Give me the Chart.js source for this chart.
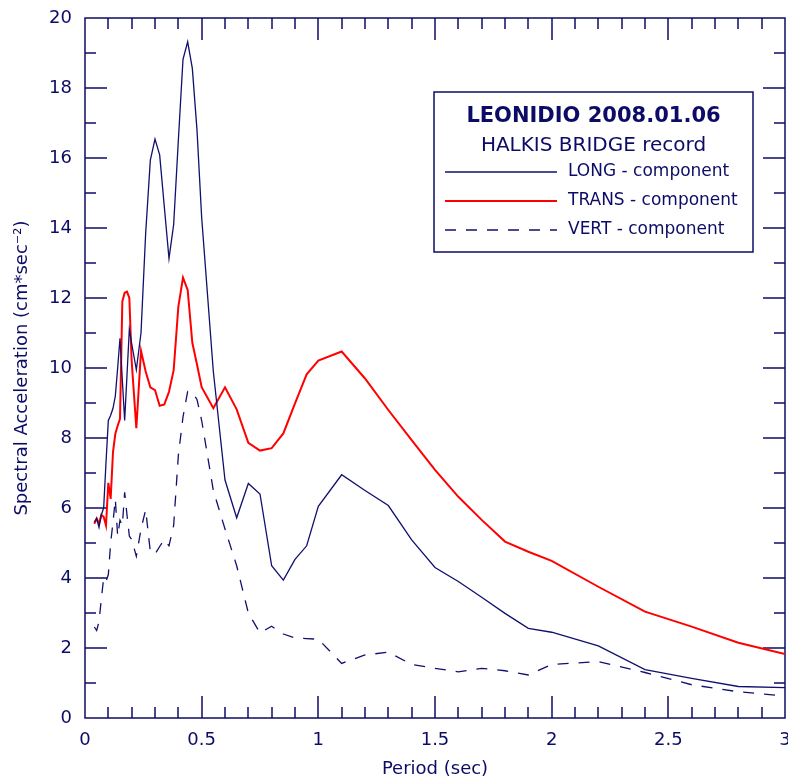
<!DOCTYPE html>
<html>
<head>
<meta charset="utf-8">
<title>Spectral Acceleration - LEONIDIO 2008.01.06</title>
<script src="https://cdn.jsdelivr.net/npm/chart.js"></script>
<style>
  html, body { margin: 0; padding: 0; background: #fff; overflow: hidden; }
  #container { width: 788px; height: 778px; }
</style>
</head>
<body>
<div id="container"><canvas id="saChart" width="788" height="778"></canvas></div>
<script>
// periods (sec) and spectral acceleration (cm*sec^-2)
const periods = [0.04, 0.05, 0.06, 0.07, 0.08, 0.09, 0.10, 0.11, 0.12, 0.13, 0.14, 0.15, 0.16, 0.17, 0.18, 0.19, 0.20,
  0.22, 0.24, 0.26, 0.28, 0.30, 0.32, 0.34, 0.36, 0.38, 0.40, 0.42, 0.44, 0.46, 0.48, 0.50,
  0.55, 0.60, 0.65, 0.70, 0.75, 0.80, 0.85, 0.90, 0.95, 1.0,
  1.1, 1.2, 1.3, 1.4, 1.5, 1.6, 1.7, 1.8, 1.9, 2.0, 2.2, 2.4, 2.6, 2.8, 3.0];

const longComp = [5.6, 5.7, 5.45, 5.8, 6.0, 7.3, 8.5, 8.65, 8.85, 9.2, 10.0, 10.85, 9.65, 8.5, 9.8, 11.1, 10.7,
  9.95, 11.0, 13.85, 15.94, 16.54, 16.09, 14.6, 13.13, 14.1, 16.5, 18.82, 19.32, 18.56, 16.8, 14.3,
  9.9, 6.8, 5.72, 6.7, 6.4, 4.35, 3.94, 4.53, 4.92, 6.05,
  6.95, 6.5, 6.07, 5.09, 4.3, 3.9, 3.45, 2.99, 2.56, 2.45, 2.06, 1.38, 1.13, 0.9, 0.87];

const transComp = [5.55, 5.7, 5.55, 5.8, 5.75, 5.5, 6.72, 6.26, 7.6, 8.12, 8.35, 8.55, 11.9, 12.15, 12.18, 12.0, 10.2,
  8.28, 10.49, 9.9, 9.45, 9.37, 8.92, 8.96, 9.32, 9.94, 11.75, 12.58, 12.23, 10.72, 10.1, 9.45,
  8.85, 9.45, 8.82, 7.86, 7.64, 7.71, 8.13, 8.99, 9.82, 10.21,
  10.47, 9.7, 8.8, 7.94, 7.09, 6.32, 5.66, 5.04, 4.75, 4.49, 3.75, 3.04, 2.61, 2.15, 1.83];

const vertComp = [2.6, 2.5, 2.75, 3.4, 4.0, 3.9, 4.1, 5.0, 5.6, 6.25, 5.2, 5.65, 5.5, 6.45, 5.8, 5.2, 5.1,
  4.62, 5.4, 5.95, 4.75, 4.68, 4.9, 5.1, 4.92, 5.5, 7.5, 8.6, 9.33, 9.3, 9.1, 8.5,
  6.5, 5.4, 4.35, 3.0, 2.43, 2.62, 2.4, 2.29, 2.27, 2.25,
  1.56, 1.8, 1.88, 1.53, 1.42, 1.32, 1.42, 1.35, 1.23, 1.53, 1.61, 1.3, 0.95, 0.75, 0.63];

const xTicks = [0, 0.5, 1, 1.5, 2, 2.5, 3];
const yTicks = [0, 2, 4, 6, 8, 10, 12, 14, 16, 18, 20];

const legendTitle = 'LEONIDIO 2008.01.06';
const legendSubtitle = 'HALKIS BRIDGE record';

const NAVY = '#0c0c66';
const FONT = '"DejaVu Sans", Verdana, sans-serif';

const pairs = vals => periods.map((p, i) => ({ x: p, y: vals[i] }));

// frame with inward ticks on all four sides
const framePlugin = {
  id: 'frame',
  beforeDatasetsDraw(chart) {
    const { ctx, chartArea: a, scales: { x, y } } = chart;
    ctx.save();
    ctx.strokeStyle = NAVY;
    ctx.lineWidth = 1.5;
    ctx.strokeRect(a.left, a.top, a.right - a.left, a.bottom - a.top);
    ctx.beginPath();
    for (let i = 1; i < 30; i++) {
      const px = Math.round(x.getPixelForValue(i / 10));
      const len = i % 5 === 0 ? 22 : 11;
      ctx.moveTo(px, a.bottom); ctx.lineTo(px, a.bottom - len);
      ctx.moveTo(px, a.top); ctx.lineTo(px, a.top + len);
    }
    for (let v = 1; v < 20; v++) {
      const py = Math.round(y.getPixelForValue(v));
      const len = v % 2 === 0 ? 22 : 11;
      ctx.moveTo(a.left, py); ctx.lineTo(a.left + len, py);
      ctx.moveTo(a.right, py); ctx.lineTo(a.right - len, py);
    }
    ctx.stroke();
    ctx.restore();
  }
};

// boxed legend with two title lines
const boxLegend = {
  id: 'boxLegend',
  afterDraw(chart) {
    const { ctx } = chart;
    const bx = 434, by = 92, bw = 319, bh = 160;
    ctx.save();
    ctx.fillStyle = '#fff';
    ctx.fillRect(bx, by, bw, bh);
    ctx.strokeStyle = NAVY;
    ctx.lineWidth = 1.5;
    ctx.strokeRect(bx, by, bw, bh);

    ctx.fillStyle = NAVY;
    ctx.textAlign = 'center';
    ctx.textBaseline = 'middle';
    ctx.font = 'bold 21px ' + FONT;
    ctx.fillText(legendTitle, bx + bw / 2, 117);
    ctx.font = '20px ' + FONT;
    ctx.fillText(legendSubtitle, bx + bw / 2, 146);

    ctx.textAlign = 'left';
    ctx.font = '17px ' + FONT;
    const rows = [172, 201, 230];
    chart.data.datasets.forEach((ds, i) => {
      const yy = rows[i];
      ctx.beginPath();
      ctx.strokeStyle = ds.borderColor;
      ctx.lineWidth = ds.borderWidth;
      ctx.setLineDash(ds.borderDash || []);
      ctx.moveTo(445, yy);
      ctx.lineTo(557, yy);
      ctx.stroke();
      ctx.setLineDash([]);
      ctx.fillStyle = NAVY;
      ctx.fillText(ds.label, 568, yy);
    });
    ctx.restore();
  }
};

new Chart(document.getElementById('saChart'), {
  type: 'line',
  data: {
    datasets: [
      { label: 'LONG - component', data: pairs(longComp), borderColor: '#10106e', borderWidth: 1.3, pointRadius: 0, tension: 0 },
      { label: 'TRANS - component', data: pairs(transComp), borderColor: '#ff0000', borderWidth: 2, pointRadius: 0, tension: 0 },
      { label: 'VERT - component', data: pairs(vertComp), borderColor: '#10106e', borderWidth: 1.3, borderDash: [11, 10], pointRadius: 0, tension: 0 }
    ]
  },
  options: {
    responsive: false,
    animation: false,
    layout: { padding: { top: 18, right: 3, left: 0, bottom: 0 } },
    plugins: {
      legend: { display: false },
      tooltip: { enabled: false }
    },
    scales: {
      x: {
        type: 'linear',
        min: 0,
        max: 3,
        afterBuildTicks: s => { s.ticks = xTicks.map(v => ({ value: v })); },
        afterFit: s => { s.height = 60; s.paddingLeft = 0; s.paddingRight = 0; },
        grid: { display: false, drawTicks: false },
        border: { display: false },
        ticks: {
          color: NAVY, padding: 12, maxRotation: 0,
          font: { family: FONT, size: 18 },
          callback: v => String(v)
        },
        title: {
          display: true,
          text: 'Period (sec)',
          color: NAVY,
          padding: { top: 0, bottom: 0 },
          font: { family: FONT, size: 18, lineHeight: 1 }
        }
      },
      y: {
        min: 0,
        max: 20,
        afterBuildTicks: s => { s.ticks = yTicks.map(v => ({ value: v })); },
        afterFit: s => { s.width = 85; s.paddingTop = 0; s.paddingBottom = 0; },
        grid: { display: false, drawTicks: false },
        border: { display: false },
        ticks: {
          color: NAVY, padding: 13,
          font: { family: FONT, size: 18 },
          callback: v => String(v)
        },
        title: {
          display: true,
          text: 'Spectral Acceleration (cm*sec⁻²)',
          color: NAVY,
          padding: { top: 13, bottom: 0 },
          font: { family: FONT, size: 18, lineHeight: 1 }
        }
      }
    }
  },
  plugins: [framePlugin, boxLegend]
});
</script>
</body>
</html>
